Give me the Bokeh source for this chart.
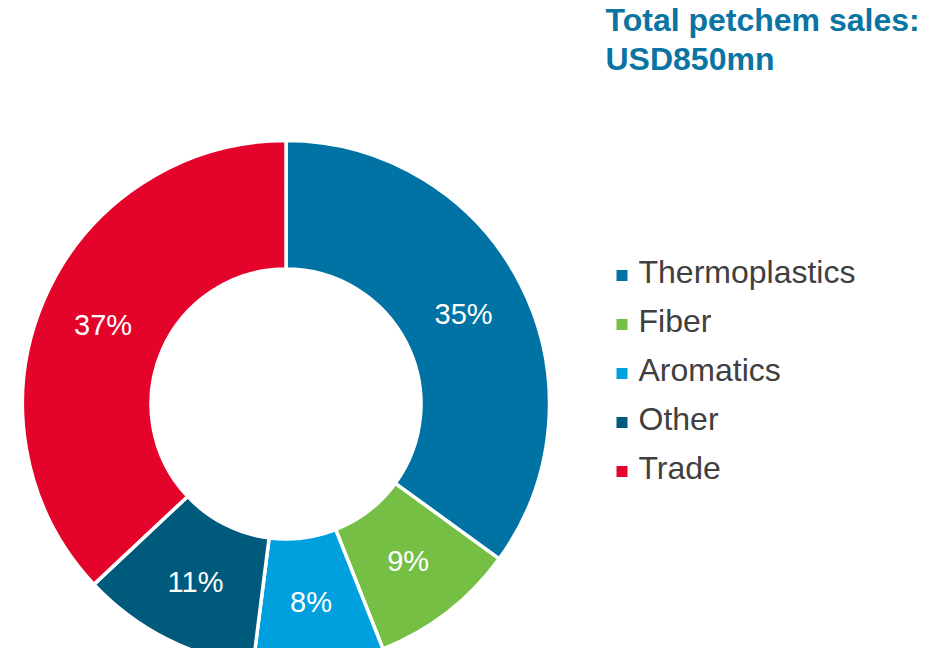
import math
from bokeh.plotting import figure
from bokeh.models import Range1d, ColumnDataSource
from bokeh.core.properties import value
from bokeh.embed import file_html
from bokeh.resources import INLINE

categories = ["Thermoplastics", "Fiber", "Aromatics", "Other", "Trade"]
shares = [35, 9, 8, 11, 37]
colors = ["#0072A3", "#76BF45", "#00A0DF", "#005A7B", "#E4042B"]
title_lines = ["Total petchem sales:", "USD850mn"]

FONT = "Liberation Sans"
W, H = 930, 648
p = figure(width=W, height=H, output_backend="svg", toolbar_location=None,
           x_range=Range1d(0, W), y_range=Range1d(-H, 0),
           min_border=0, outline_line_color=None)
p.axis.visible = False
p.grid.visible = False
p.background_fill_color = "white"
p.border_fill_color = "white"

cx, cy = 285.5, -403.5
r_out, r_in = 263.5, 135.0
total = float(sum(shares))
starts, ends, mids = [], [], []
cum = 0.0
for s in shares:
    a0 = math.pi / 2 - 2 * math.pi * cum / total
    cum += s
    a1 = math.pi / 2 - 2 * math.pi * cum / total
    starts.append(a0)
    ends.append(a1)
    mids.append((a0 + a1) / 2)

src = ColumnDataSource(dict(start=starts, end=ends, color=colors,
                            cat=categories))
p.annular_wedge(x=cx, y=cy, inner_radius=r_in, outer_radius=r_out,
                start_angle="start", end_angle="end", direction="clock",
                fill_color="color", line_color="white", line_width=3.5,
                source=src)

r_lab = (r_in + r_out) / 2
lx = [cx + r_lab * math.cos(m) for m in mids]
ly = [cy + r_lab * math.sin(m) for m in mids]
p.text(x=lx, y=ly, text=[f"{s}%" for s in shares], text_color="white",
       text_font=value(FONT), text_font_size="29px", text_align="center",
       text_baseline="middle")

# legend
leg_x = 621.5
leg_y0 = -275.0
step = 49.0
ly_leg = [leg_y0 - i * step for i in range(len(categories))]
p.scatter(x=[leg_x] * len(categories), y=ly_leg, marker="square", size=11,
          fill_color=colors, line_color=None)
p.text(x=[638] * len(categories), y=[y + 4 for y in ly_leg], text=categories,
       text_color="#404040", text_font=value(FONT), text_font_size="32px",
       text_align="left", text_baseline="middle")

# title
p.text(x=[605, 605], y=[-19, -58], text=title_lines, text_color="#0A74A3",
       text_font=value(FONT), text_font_size="32px", text_font_style="bold",
       text_align="left", text_baseline="middle")

open("out.html", "w").write(file_html(p, INLINE))
